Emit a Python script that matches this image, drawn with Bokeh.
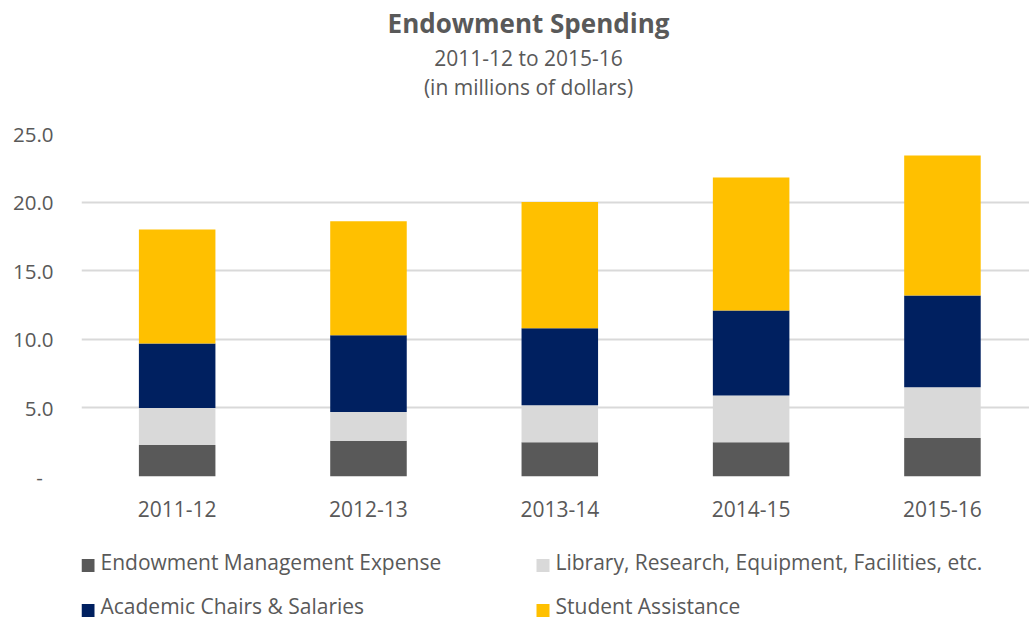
from bokeh.plotting import figure
from bokeh.layouts import column
from bokeh.models import Range1d, FixedTicker
from bokeh.core.properties import value
from bokeh.embed import file_html
from bokeh.resources import INLINE

years = ["2011-12", "2012-13", "2013-14", "2014-15", "2015-16"]
mgmt = [2.3, 2.6, 2.5, 2.5, 2.8]
library = [2.7, 2.1, 2.7, 3.4, 3.7]
chairs = [4.7, 5.6, 5.6, 6.2, 6.7]
student = [8.3, 8.3, 9.2, 9.7, 10.2]

series_names = ["Endowment Management Expense", "Library, Research, Equipment, Facilities, etc.",
                "Academic Chairs & Salaries", "Student Assistance"]
colors = ["#595959", "#D9D9D9", "#002060", "#FFC000"]
y_ticks = [0, 5, 10, 15, 20, 25]

title_lines = ["Endowment Spending", "2011-12 to 2015-16", "(in millions of dollars)"]

FONT = "Open Sans"
TXT = "#595959"
W = 1029
LEFT = 81


def bare(height):
    # frame aligned with the main chart's frame (column layouts align frames)
    f = figure(width=W, height=height, output_backend="svg", toolbar_location=None,
               x_range=Range1d(LEFT, W), y_range=Range1d(height, 0),
               x_axis_type=None, y_axis_type=None, min_border=0, min_border_left=LEFT)
    f.outline_line_color = None
    f.grid.visible = False
    return f


# ---- title block ----
TH = 118
ft = bare(TH)
ft.text(x=[528], y=[22], text=[title_lines[0]], text_font=value(FONT), text_font_size="26px",
        text_font_style="bold", text_color=TXT, text_align="center", text_baseline="middle")
ft.text(x=[528, 528], y=[57, 86], text=title_lines[1:], text_font=value(FONT), text_font_size="21px",
        text_color=TXT, text_align="center", text_baseline="middle")

# ---- main chart ----
xs = list(range(len(years)))
data = dict(x=xs, mgmt=mgmt, library=library, chairs=chairs, student=student)

p = figure(width=W, height=412, output_backend="svg", toolbar_location=None,
           x_range=Range1d(-0.5, 4.455), y_range=Range1d(0, 25),
           min_border_left=LEFT, min_border_right=0, min_border_top=15, min_border_bottom=54)
p.outline_line_color = None

rs = p.vbar_stack(["mgmt", "library", "chairs", "student"], x="x", width=0.40, color=colors,
                  source=data, line_color=None)

p.yaxis.ticker = FixedTicker(ticks=y_ticks)
p.yaxis.major_label_overrides = {0: "-\u00a0\u00a0"} | {t: f"{t:.1f}" for t in y_ticks[1:]}
p.yaxis.axis_line_color = None
p.yaxis.major_tick_line_color = None
p.yaxis.major_tick_out = 0
p.yaxis.major_tick_in = 0
p.yaxis.minor_tick_line_color = None
p.yaxis.major_label_text_font = FONT
p.yaxis.major_label_text_font_size = "20.5px"
p.yaxis.major_label_text_color = TXT
p.yaxis.major_label_standoff = 28

p.xaxis.ticker = FixedTicker(ticks=xs)
p.xaxis.major_label_overrides = {i: y for i, y in enumerate(years)}
p.xaxis.axis_line_color = None
p.xaxis.major_tick_line_color = None
p.xaxis.major_tick_out = 0
p.xaxis.major_tick_in = 0
p.xaxis.minor_tick_line_color = None
p.xaxis.major_label_text_font = FONT
p.xaxis.major_label_text_font_size = "21px"
p.xaxis.major_label_text_color = TXT
p.xaxis.major_label_standoff = 24

p.xgrid.grid_line_color = None
p.ygrid.ticker = FixedTicker(ticks=y_ticks)
p.ygrid.grid_line_color = "#D9D9D9"
p.ygrid.grid_line_width = 2

# ---- legend block ----
LH = 89
fl = bare(LH)
order = [0, 1, 2, 3]
sq_x = [87.5, 542.5, 87.5, 542.5]
sq_y = [35, 35, 80, 80]
tx_x = [100, 555, 100, 555]
tx_y = [31, 31, 75, 75]
fl.rect(x=sq_x, y=sq_y, width=13, height=13, width_units="screen", height_units="screen",
        fill_color=[colors[i] for i in order], line_color=None)
fl.text(x=tx_x, y=tx_y, text=[series_names[i] for i in order], text_font=value(FONT),
        text_font_size="21px", text_color=TXT, text_align="left", text_baseline="middle")

layout = column(ft, p, fl, spacing=0)
open("out.html", "w").write(file_html(layout, INLINE))
